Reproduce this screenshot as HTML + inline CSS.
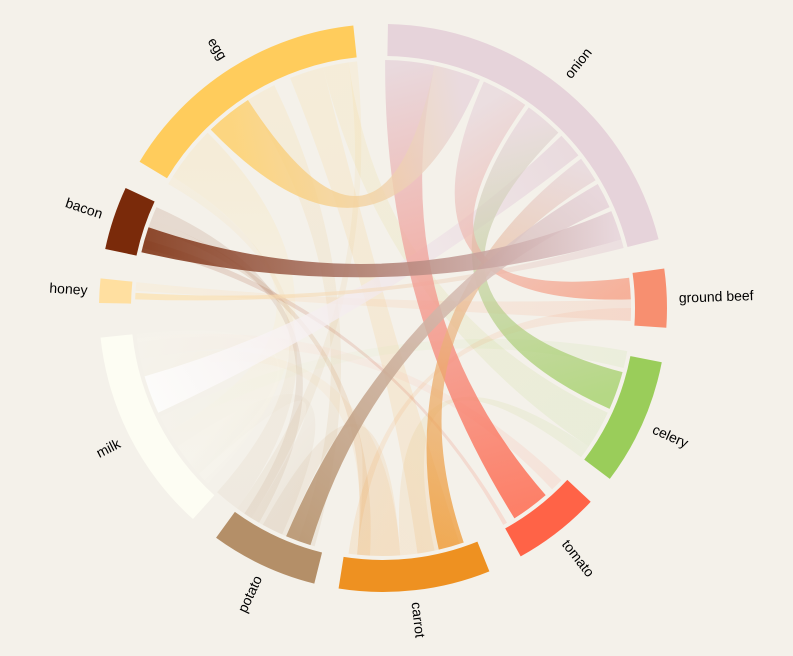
<!DOCTYPE html>
<html><head><meta charset="utf-8"><style>
html,body{margin:0;padding:0;background:#f4f1ea;}
svg{display:block;font-family:"Liberation Sans",sans-serif;}
</style></head><body>
<svg id="s" width="793" height="656" viewBox="0 0 793 656"></svg>
<script>
const cx=383,cy=308,R0=252,R1=284,RC=248;
const NS="http://www.w3.org/2000/svg";
const s=document.getElementById('s');
const defs=document.createElementNS(NS,'defs');s.appendChild(defs);
function P(a,r){a=a*Math.PI/180;return [cx+r*Math.sin(a),cy-r*Math.cos(a)];}
function el(t,at,par){const e=document.createElementNS(NS,t);for(const k in at)e.setAttribute(k,at[k]);(par||s).appendChild(e);return e;}
const groups=[
["onion",1,76,"#e6d3da"],["ground beef",82,94,"#f78f70"],["celery",101,127,"#9acd5a"],
["tomato",133,151,"#ff6347"],["carrot",158,189,"#ee9121"],["potato",194,216,"#b48f68"],
["milk",222,264,"#fdfdf3"],["honey",271,276,"#ffdfa0"],["bacon",282,295,"#7a2a0a"],["egg",301,354,"#ffcc5c"]];
const col={};groups.forEach(g=>col[g[0]]=g[3]);
let gid=0;
function chord(a0,a1,b0,b1,c1,c2,op){
 const p0=P(a0,RC),p1=P(a1,RC),q0=P(b0,RC),q1=P(b1,RC);
 const la=(a1-a0)>180?1:0,lb=(b1-b0)>180?1:0;
 const d=`M${p0} A${RC},${RC} 0 ${la} 1 ${p1} Q${cx},${cy} ${q0} A${RC},${RC} 0 ${lb} 1 ${q1} Q${cx},${cy} ${p0}Z`;
 const m1=P((a0+a1)/2,RC),m2=P((b0+b1)/2,RC);
 const id='g'+(gid++);
 const lg=el('linearGradient',{id:id,gradientUnits:'userSpaceOnUse',x1:m1[0],y1:m1[1],x2:m2[0],y2:m2[1]},defs);
 el('stop',{offset:'0','stop-color':c1},lg);el('stop',{offset:'1','stop-color':c2},lg);
 el('path',{d:d,fill:`url(#${id})`,opacity:op});
}
const faint=[
[302,315,225,240,"egg","milk",0.13],[327,334,196,200,"egg","potato",0.12],[338,346,162,172,"egg","carrot",0.12],
[346,352,115,124,"egg","celery",0.12],[240,244,100,104,"milk","celery",0.10],[254,258,176,186,"milk","carrot",0.10],
[258,263,134,137,"milk","tomato",0.10],[228,236,204,212,"milk","potato",0.10],[284,286,150,151,"bacon","tomato",0.15],
[289,291,183,186,"bacon","carrot",0.12],[291,294,210,214,"bacon","potato",0.12],[274,276,88,93,"honey","ground beef",0.15],
[168,176,124,127,"carrot","celery",0.10],[176,186,203,209,"carrot","potato",0.10],[90,93,186,188,"ground beef","carrot",0.12],
[216,222,300,302,"potato","egg",0.08],[352,354,212,216,"egg","potato",0.10],[226,228,262,264,"milk","milk",0.08]];
faint.forEach(f=>chord(f[0],f[1],f[2],f[3],col[f[4]],col[f[5]],f[6]));
chord(245,254,46,52,"#ffffff",col.onion,0.75);
chord(272,273.5,74,76,col.honey,col.onion,0.6);
chord(105,114,36,45,col.celery,col.onion,0.7);
chord(83,88,24,35,col['ground beef'],col.onion,0.65);
chord(139,148,0.5,12,col.tomato,col.onion,0.8);
chord(161,167,53,59,col.carrot,col.onion,0.7);
chord(197,203,60,66,col.potato,col.onion,0.85);
chord(283,289,67,74,col.bacon,col.onion,0.85);
chord(316,327,12,23,col.egg,col.onion,0.75);
groups.forEach(g=>{
 const [n,a0,a1,c]=g;const o0=P(a0,R1),o1=P(a1,R1),i0=P(a0,R0),i1=P(a1,R0);
 const l=(a1-a0)>180?1:0;
 el('path',{d:`M${o0} A${R1},${R1} 0 ${l} 1 ${o1} L${i1} A${R0},${R0} 0 ${l} 0 ${i0}Z`,fill:c});
 const m=(a0+a1)/2;const left=m>180;
 const t=el('text',{transform:`rotate(${left?m+90:m-90},${cx},${cy}) translate(${left?cx-296:cx+296},${cy+5})`,'text-anchor':left?'end':'start','font-size':'14',fill:'#000'});
 t.textContent=n;
});
</script>
</body></html>
